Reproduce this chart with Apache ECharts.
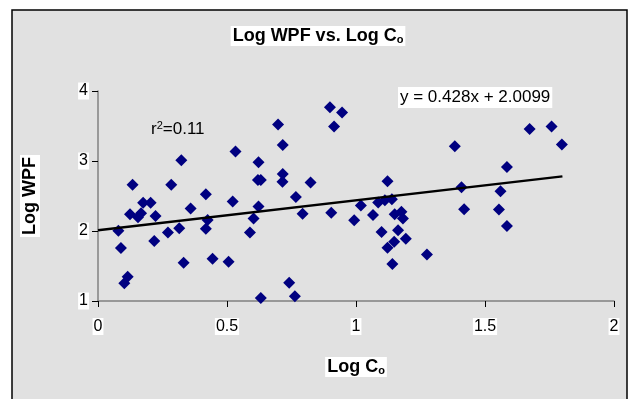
<!DOCTYPE html>
<html><head><meta charset="utf-8">
<script src="https://cdn.jsdelivr.net/npm/echarts@6/dist/echarts.min.js"></script>
<style>html,body{margin:0;padding:0;background:#fff}#c{width:636px;height:399px}</style>
</head><body><div id="c"></div>
<script>
const logCo = [0.323,0.134,0.284,0.418,0.175,0.204,0.359,0.124,0.167,0.155,0.223,0.425,0.418,0.315,0.271,0.079,0.218,0.089,0.332,0.444,0.506,0.115,0.102,
  0.899,0.946,0.915,0.698,0.533,0.716,0.622,0.620,0.631,0.716,0.715,0.824,0.767,0.522,0.622,0.603,0.793,0.904,0.589,0.741,0.631,0.763,
  1.383,1.122,1.112,1.139,1.086,1.019,1.409,1.419,0.993,1.066,1.150,1.176,1.182,1.099,1.163,1.193,1.148,1.122,1.141,1.275,
  1.673,1.758,1.798,1.585,1.560,1.554,1.585];
const logWPF = [3.011,2.659,2.659,2.526,2.402,2.402,2.322,2.241,2.255,2.198,2.213,2.156,2.031,2.041,1.980,2.003,1.856,1.756,1.546,1.603,1.561,1.347,1.252,
  3.767,3.692,3.492,3.521,3.136,3.230,2.983,2.730,2.730,2.816,2.702,2.693,2.484,2.422,2.351,2.180,2.245,2.260,1.980,1.261,1.043,1.067,
  3.211,2.712,2.441,2.455,2.408,2.365,2.626,2.312,2.155,2.227,2.241,2.274,2.180,1.984,2.009,1.889,1.846,1.760,1.528,1.666,
  3.458,3.492,3.235,2.916,2.569,2.308,2.070];
const trendX = [0, 1.8];
const trendY = [2.0099, 2.7803];
const xTicks = ['0','0.5','1','1.5','2'];
const yTicks = ['1','2','3','4'];
const eqText = 'y = 0.428x + 2.0099';
const r2Text = '=0.11';

const FONT = '"Liberation Sans", Arial, sans-serif';
const chart = echarts.init(document.getElementById('c'), null, {renderer:'canvas'});
const pts = logCo.map((x,i)=>[x, logWPF[i]]);
const line = trendX.map((x,i)=>[x, trendY[i]]);
const lblStyle = {color:'#000', fontFamily:FONT, fontSize:16, backgroundColor:'#fff', padding:[1,1,0,1]};
chart.setOption({
  backgroundColor:'#fff',
  animation:false,
  graphic:[
    {type:'rect', z:-10, shape:{x:12, y:10, width:615, height:400}, style:{fill:'#e1e1e1', stroke:'#000', lineWidth:1.5}},
    {type:'text', left:398, top:87, z:10, style:{text:eqText, font:'17px '+FONT, fill:'#000', backgroundColor:'#fff', padding:[2,2,2,2]}},
    {type:'text', left:151, top:120, z:10, style:{text:'r{s|2}'+r2Text, font:'17px '+FONT, fill:'#000',
      rich:{s:{fontSize:11, fontFamily:FONT, verticalAlign:'top', padding:[0,0,7,0]}}}}
  ],
  title:{
    text:'Log WPF vs. Log C{s|o}', left:'center', top:26,
    backgroundColor:'#fff', padding:[1,2,1,2],
    textStyle:{fontFamily:FONT, fontSize:18, fontWeight:'bold', color:'#000',
      rich:{s:{fontFamily:FONT, fontSize:11, fontWeight:'bold', padding:[7,0,0,0]}}}
  },
  grid:{left:98, right:22, top:91, bottom:98},
  xAxis:{
    type:'value', min:0, max:2, interval:0.5,
    name:'Log C{s|o}', nameLocation:'middle', nameGap:56,
    nameTextStyle:{fontFamily:FONT, fontSize:18, fontWeight:'bold', color:'#000', backgroundColor:'#fff', padding:[1,2,1,2],
      rich:{s:{fontFamily:FONT, fontSize:11, fontWeight:'bold', padding:[7,0,0,0]}}},
    axisLine:{show:true, onZero:false, lineStyle:{color:'#808080', width:1.5}},
    axisTick:{show:true, length:6, lineStyle:{color:'#000'}},
    axisLabel:Object.assign({margin:17, formatter:(v)=>xTicks[Math.round(v/0.5)]}, lblStyle),
    splitLine:{show:false}
  },
  yAxis:{
    type:'value', min:1, max:4, interval:1,
    name:'Log WPF', nameLocation:'middle', nameGap:58, nameRotate:90,
    nameTextStyle:{fontFamily:FONT, fontSize:18, fontWeight:'bold', color:'#000', backgroundColor:'#fff', padding:[1,2,1,2]},
    axisLine:{show:true, onZero:false, lineStyle:{color:'#808080', width:1.5}},
    axisTick:{show:true, length:6, lineStyle:{color:'#000'}},
    axisLabel:Object.assign({margin:9, formatter:(v)=>yTicks[Math.round(v-1)]}, lblStyle),
    splitLine:{show:false}
  },
  series:[
    {type:'scatter', data:pts, symbol:'path://M0,-1L1,0L0,1L-1,0Z', symbolSize:[12,12], itemStyle:{color:'#000080', opacity:1}, z:3},
    {type:'line', data:line, symbol:'none', lineStyle:{color:'#000', width:2.5}, z:4}
  ]
});
</script></body></html>
